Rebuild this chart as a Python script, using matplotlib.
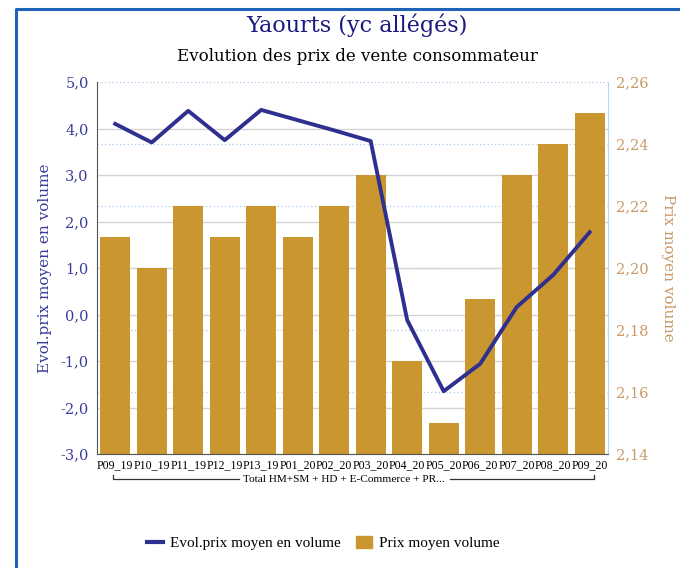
import matplotlib.pyplot as plt
import numpy as np
from matplotlib.lines import Line2D
from matplotlib.patches import Patch

periods = ['P09_19', 'P10_19', 'P11_19', 'P12_19', 'P13_19', 'P01_20', 'P02_20',
           'P03_20', 'P04_20', 'P05_20', 'P06_20', 'P07_20', 'P08_20', 'P09_20']
prix_moyen = [2.21, 2.20, 2.22, 2.21, 2.22, 2.21, 2.22,
              2.23, 2.17, 2.15, 2.19, 2.23, 2.24, 2.25]
evol_prix = [4.10, 3.70, 4.38, 3.75, 4.40, 4.18, 3.96,
             3.73, -0.12, -1.65, -1.06, 0.16, 0.85, 1.77]

navy = '#2f2f8f'
tan = '#c9962f'
tan_txt = '#c89a68'
blue_txt = '#3b3b9b'

plt.rcParams['font.family'] = ['DejaVu Serif']

fig = plt.figure(figsize=(6.8, 5.68), dpi=100)
ax = fig.add_axes([0.1426, 0.2007, 0.7514, 0.6549])
ax2 = ax.twinx()

x = np.arange(len(periods))

# bars on the right axis, line on the left axis
ax2.set_axisbelow(True)
ax2.bar(x, prix_moyen, width=0.82, color=tan, zorder=2)
ax2.set_ylim(2.14, 2.26)
ax2.set_yticks(np.arange(2.14, 2.2601, 0.02))
ax2.set_yticklabels([f'{v:.2f}'.replace('.', ',') for v in np.arange(2.14, 2.2601, 0.02)],
                    color=tan_txt, fontsize=10.5)
ax2.grid(axis='y', color='#a9c9ea', linestyle=(0, (1, 2)), linewidth=0.9)
ax2.set_ylabel('Prix moyen volume', color=tan_txt, fontsize=11, rotation=-90, labelpad=19)

ax.set_zorder(ax2.get_zorder() + 1)
ax.patch.set_visible(False)
ax.plot(x, evol_prix, color=navy, linewidth=2.8, zorder=3)
ax.set_ylim(-3, 5)
ax.set_yticks(np.arange(-3, 5.01, 1))
ax.set_yticklabels([f'{v:.1f}'.replace('.', ',') for v in np.arange(-3, 5.01, 1)],
                   color=blue_txt, fontsize=10.5)
ax.set_ylabel('Evol.prix moyen en volume', color=blue_txt, fontsize=11, labelpad=6)
ax.set_xlim(-0.5, len(periods) - 0.5)
ax.set_xticks(x)
ax.set_xticklabels(periods, fontsize=8.6, family='Liberation Serif')

# grey grid of the left axis, drawn behind the bars
for v in np.arange(-2, 5, 1):
    ax2.axhline(2.14 + (v + 3) * 0.015, color='#d4d4d4', linewidth=1.0, zorder=1)

for a in (ax, ax2):
    a.tick_params(length=0)
    a.spines['top'].set_visible(False)
ax.spines['left'].set_color('#555555')
ax.spines['bottom'].set_color('#555555')
ax.spines['right'].set_visible(False)
ax2.spines['left'].set_visible(False)
ax2.spines['bottom'].set_visible(False)
ax2.spines['right'].set_color('#b8d6f5')
ax.tick_params(axis='y', pad=6)
ax.tick_params(axis='x', pad=4)
ax2.tick_params(axis='y', pad=6)

# group bracket under the category labels
by = 0.156
fig.add_artist(Line2D([0.166, 0.166, 0.352], [by + 0.008, by, by], color='#333333', lw=0.9))
fig.add_artist(Line2D([0.662, 0.874, 0.874], [by, by, by + 0.008], color='#333333', lw=0.9))
fig.text(0.506, by, 'Total HM+SM + HD + E-Commerce + PR...', ha='center', va='center',
         fontsize=8.1, family='Liberation Serif')

fig.text(0.525, 0.955, 'Yaourts (yc allégés)', ha='center', va='center',
         fontsize=16, color='#1a1a80')
fig.text(0.525, 0.9, 'Evolution des prix de vente consommateur', ha='center', va='center',
         fontsize=12)

handles = [Line2D([0], [0], color=navy, lw=3),
           Patch(color=tan)]
fig.legend(handles, ['Evol.prix moyen en volume', 'Prix moyen volume'],
           loc='center', bbox_to_anchor=(0.476, 0.044), ncol=2, frameon=False,
           handlelength=1.0, handleheight=0.9, handletextpad=0.5, columnspacing=1.0,
           prop={'family': 'Liberation Serif', 'size': 11})

# blue frame around the chart
fig.add_artist(Line2D([0.023, 0.023, 1.0], [0.0, 0.985, 0.985], color='#1f63b8', lw=2.2))

fig.savefig('out.png', dpi=100)
